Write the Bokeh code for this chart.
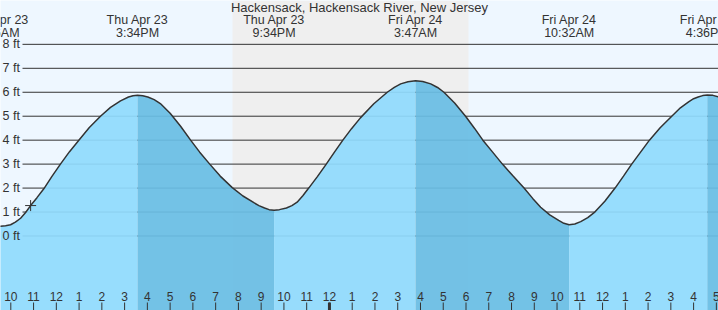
from bokeh.plotting import figure
from bokeh.models import Range1d
from bokeh.core.properties import value
from bokeh.embed import file_html
from bokeh.resources import INLINE

# ---------------- data ----------------
TITLE = "Hackensack, Hackensack River, New Jersey"

# hours since Thu Apr 23 00:00 ; water level in ft
times = [9.30, 9.547, 9.77, 9.99, 10.20, 10.43, 10.65, 10.87, 11.15, 11.45, 11.80,
         12.18, 12.58, 12.99, 13.45, 13.94, 14.38, 14.82, 15.17, 15.37,
         15.567, 15.80, 16.02, 16.30, 16.57, 17.00, 17.46, 17.90, 18.30, 18.74,
         19.20, 19.73, 20.20, 20.68, 20.90, 21.15, 21.35,
         21.567, 21.80, 22.11, 22.35, 22.58, 22.83, 23.09, 23.47, 23.86, 24.22,
         24.59, 24.97, 25.36, 25.95, 26.54, 26.85, 27.13, 27.45,
         27.783, 28.10, 28.45, 28.75, 29.03, 29.50, 29.98, 30.37, 30.74, 31.17,
         31.60, 32.07, 32.55, 32.93, 33.28, 33.68, 34.07, 34.30,
         34.533, 34.78, 35.04, 35.35, 35.67, 36.10, 36.55, 36.92, 37.28, 37.67,
         38.06, 38.53, 39.04, 39.42, 39.78, 40.00, 40.20, 40.40,
         40.60, 40.85, 41.09, 41.30]
heights = [0.39, 0.41, 0.43, 0.47, 0.58, 0.74, 0.98, 1.27, 1.60, 1.97, 2.48,
           3.00, 3.52, 4.00, 4.53, 5.00, 5.37, 5.64, 5.80, 5.85,
           5.87, 5.85, 5.80, 5.69, 5.53, 5.12, 4.58, 4.00, 3.50, 3.00,
           2.50, 2.02, 1.67, 1.39, 1.27, 1.17, 1.10,
           1.07, 1.10, 1.17, 1.27, 1.41, 1.68, 2.00, 2.48, 3.00, 3.50,
           4.00, 4.48, 4.93, 5.52, 6.00, 6.20, 6.35, 6.44,
           6.48, 6.45, 6.35, 6.20, 6.00, 5.55, 5.00, 4.50, 4.00, 3.50,
           3.00, 2.50, 2.00, 1.57, 1.20, 0.88, 0.65, 0.53,
           0.47, 0.50, 0.60, 0.77, 1.01, 1.45, 2.00, 2.50, 3.00, 3.50,
           4.00, 4.52, 5.00, 5.35, 5.60, 5.73, 5.80, 5.86,
           5.89, 5.87, 5.81, 5.70]

extreme_times = [9.44, 15.567, 21.567, 27.783, 34.533, 40.60]
extreme_dates = ["Thu Apr 23", "Thu Apr 23", "Thu Apr 23", "Fri Apr 24", "Fri Apr 24", "Fri Apr 24"]
extreme_clock = ["9:26AM", "3:34PM", "9:34PM", "3:47AM", "10:32AM", "4:36PM"]

sunset = 19.74
sunrise = 30.11

now_time = [10.87]
now_height = [1.27]

hour_ticks = list(range(10, 42))
hour_labels = [str((h - 1) % 12 + 1) for h in hour_ticks]
midnight = [24]

level_ticks = [0, 1, 2, 3, 4, 5, 6, 7, 8]
level_labels = [f"{v} ft" for v in level_ticks]

# ---------------- layout / style ----------------
W, H = 718, 310
X0, X1 = 9.547, 41.094
Y0, Y1 = -3.11, 9.83
PX = W / (X1 - X0)          # px per hour
PY = H / (Y1 - Y0)          # px per ft

BG = "#EEF7FF"
NIGHT = "#EFEFEF"
LIGHT = "#90DAFD"
DARK = "#69BDE4"
INK = "#333333"
FONT = value("Liberation Sans")


def y_of(px):  # pixel row from top -> data value
    return Y1 - px / PY


def x_of(px):  # pixel column from left -> data value
    return X0 + px / PX


p = figure(width=W, height=H, x_range=Range1d(X0, X1), y_range=Range1d(Y0, Y1),
           output_backend="svg", toolbar_location=None, min_border=0,
           x_axis_location=None, y_axis_location=None,
           background_fill_color=BG, border_fill_color=BG, outline_line_color=None)
p.grid.visible = False

# night band
p.quad(left=[sunset], right=[sunrise], bottom=[Y0], top=[Y1], fill_color=NIGHT, line_color=None)

# level lines
p.segment(x0=[x_of(22)] * len(level_ticks), y0=level_ticks, x1=[X1] * len(level_ticks),
          y1=level_ticks, line_color=INK, line_width=1)

# fills: rising (light) and falling (dark)
bounds = [min(times)] + extreme_times[1:] + [max(times)]
for i in range(len(bounds) - 1):
    a, b = bounds[i], bounds[i + 1]
    xs = [t for t in times if a <= t <= b]
    ys = [h for t, h in zip(times, heights) if a <= t <= b]
    col = LIGHT if i % 2 == 0 else DARK
    p.varea(x=xs, y1=[Y0] * len(xs), y2=ys, fill_color=col, fill_alpha=0.93)

# tide curve
p.line(times, heights, line_color=INK, line_width=1.5)

# current position marker
p.scatter(now_time, now_height, marker="cross", size=11, line_color=INK, line_width=1)

# level labels
p.text(x=[x_of(2)] * len(level_ticks), y=level_ticks, text=level_labels,
       text_align="left", text_baseline="middle", text_font_size="12.5px",
       text_color=INK, text_font=FONT)

# hour ticks & labels
p.segment(x0=hour_ticks, y0=[y_of(302)] * len(hour_ticks), x1=hour_ticks,
          y1=[Y0] * len(hour_ticks), line_color=INK, line_width=1)
p.segment(x0=midnight, y0=[y_of(302)], x1=midnight, y1=[Y0], line_color=INK, line_width=3)
p.text(x=hour_ticks, y=[y_of(296)] * len(hour_ticks), text=hour_labels,
       text_align="center", text_baseline="middle", text_font_size="12px",
       text_color=INK, text_font=FONT)

# extreme labels
p.text(x=extreme_times, y=[y_of(19.5)] * len(extreme_times), text=extreme_dates,
       text_align="center", text_baseline="middle", text_font_size="12.5px",
       text_color=INK, text_font=FONT)
p.text(x=extreme_times, y=[y_of(32)] * len(extreme_times), text=extreme_clock,
       text_align="center", text_baseline="middle", text_font_size="12.5px",
       text_color=INK, text_font=FONT)

# title
p.text(x=[(X0 + X1) / 2], y=[y_of(7)], text=[TITLE], text_align="center",
       text_baseline="middle", text_font_size="13px", text_color=INK, text_font=FONT)

open("out.html", "w").write(file_html(p, INLINE))
